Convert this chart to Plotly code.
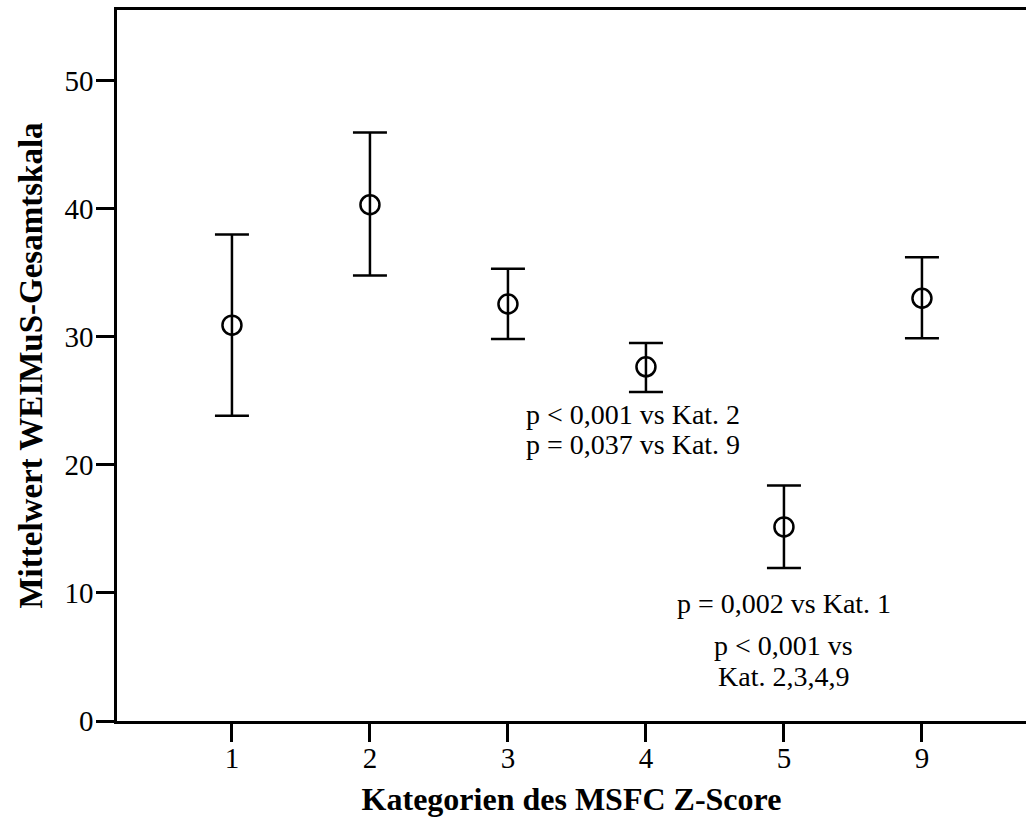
import plotly.graph_objects as go

# MSFC Z-score categories and WEIMuS total-scale means with 95% CI bounds
categories = ["1", "2", "3", "4", "5", "9"]
means = [30.9, 40.3, 32.55, 27.65, 15.15, 33.0]
ci_upper = [37.97, 45.94, 35.3, 29.5, 18.38, 36.2]
ci_lower = [23.83, 34.77, 29.82, 25.68, 11.95, 29.87]

err_plus = [u - m for u, m in zip(ci_upper, means)]
err_minus = [m - l for m, l in zip(means, ci_lower)]

serif = "Liberation Serif, Times New Roman, serif"

fig = go.Figure()
fig.add_trace(go.Scatter(
    x=categories,
    y=means,
    mode="markers",
    marker=dict(symbol="circle-open", size=19, color="black",
                line=dict(width=2.5, color="black")),
    error_y=dict(type="data", symmetric=False, array=err_plus,
                 arrayminus=err_minus, color="black", thickness=2.5,
                 width=17),
    showlegend=False,
    hoverinfo="skip",
))

note_font = dict(family=serif, size=28, color="black")
notes = [
    (2.906, 23.9, "p &lt; 0,001 vs Kat. 2"),
    (2.906, 21.55, "p = 0,037 vs Kat. 9"),
    (4.0, 9.14, "p = 0,002 vs Kat. 1"),
    (4.0, 5.86, "p &lt; 0,001 vs"),
    (4.0, 3.44, "Kat. 2,3,4,9"),
]
for nx, ny, txt in notes:
    fig.add_annotation(x=nx, y=ny, xref="x", yref="y", text=txt,
                       showarrow=False, font=note_font,
                       xanchor="center", yanchor="middle")

fig.update_layout(
    width=1026,
    height=832,
    margin=dict(l=117, r=0, t=10, b=111),
    paper_bgcolor="white",
    plot_bgcolor="white",
    font=dict(family=serif, color="black"),
    xaxis=dict(
        type="category",
        range=[-0.833, 5.754],
        showgrid=False,
        zeroline=False,
        showline=True,
        linecolor="black",
        linewidth=2.5,
        mirror=True,
        ticks="outside",
        ticklen=18,
        tickwidth=3,
        tickcolor="black",
        ticklabelstandoff=-9,
        tickfont=dict(family=serif, size=29, color="black"),
        title=dict(text="<b>Kategorien des MSFC Z-Score</b>",
                   font=dict(family=serif, size=32, color="black"),
                   standoff=16),
    ),
    yaxis=dict(
        range=[0, 55.5],
        tickvals=[0, 10, 20, 30, 40, 50],
        showgrid=False,
        zeroline=False,
        showline=True,
        linecolor="black",
        linewidth=2.5,
        ticks="outside",
        ticklen=18,
        tickwidth=3,
        tickcolor="black",
        ticklabelstandoff=-3,
        tickfont=dict(family=serif, size=29, color="black"),
        title=dict(text="<b>Mittelwert WEIMuS-Gesamtskala</b>",
                   font=dict(family=serif, size=33, color="black"),
                   standoff=12),
    ),
)

fig.write_html("out.html")
